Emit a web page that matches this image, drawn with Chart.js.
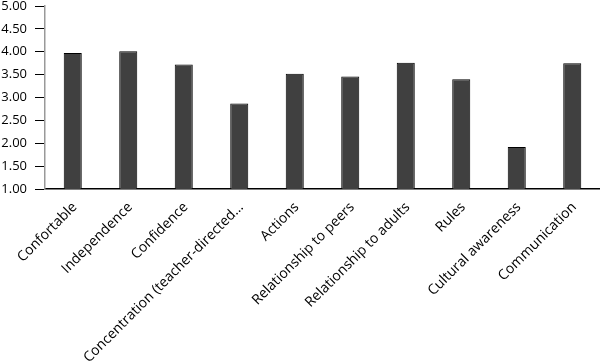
<!DOCTYPE html>
<html><head><meta charset="utf-8">
<script src="https://cdn.jsdelivr.net/npm/chart.js@4"></script>
<style>html,body{margin:0;padding:0;background:#fff}#wrap{width:600px;height:361px}</style>
</head><body><div id="wrap"><canvas id="c"></canvas></div>
<script>
const categories = ["Confortable","Independence","Confidence","Concentration (teacher-directed…","Actions","Relationship to peers","Relationship to adults","Rules","Cultural awareness","Communication"];
const values = [3.97,4.01,3.72,2.87,3.52,3.46,3.76,3.40,1.92,3.75];
const yTicks = [1.00,1.50,2.00,2.50,3.00,3.50,4.00,4.50,5.00];

new Chart(document.getElementById('c'), {
  type: 'bar',
  data: { labels: categories, datasets: [{ data: values, backgroundColor: '#404040', borderColor: '#000', borderWidth: 1, barPercentage: 0.65, categoryPercentage: 0.5 }] },
  options: {
    responsive: true, maintainAspectRatio: false, animation: false,
    layout: { padding: { top: 6, right: 0, left: 0, bottom: 0 } },
    plugins: { legend: { display: false }, tooltip: { enabled: false } },
    scales: {
      x: {
        grid: { display: false, drawTicks: false },
        border: { color: '#000', width: 1.5 },
        ticks: { color: '#000', font: { family: 'Open Sans', size: 14 }, minRotation: 45, maxRotation: 45, autoSkip: false, padding: 10, labelOffset: 2 },
        afterFit: s => { s.height = 172; s.paddingLeft = 0; s.paddingRight = 0; }
      },
      y: {
        min: 1, max: 5,
        afterBuildTicks: s => { s.ticks = yTicks.map(v => ({ value: v })); },
        grid: { drawOnChartArea: false, tickLength: 10, color: '#000' },
        border: { color: '#999', width: 1.5 },
        ticks: { color: '#000', font: { family: 'Open Sans', size: 13 }, padding: 8, callback: v => Number(v).toFixed(2) },
        afterFit: s => { s.width = 45; s.paddingTop = 0; s.paddingBottom = 0; }
      }
    }
  }
});
</script></body></html>
